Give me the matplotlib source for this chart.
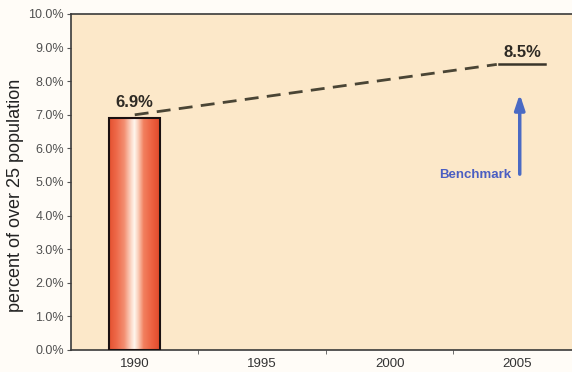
import numpy as np
import matplotlib
matplotlib.use("Agg")
import matplotlib.pyplot as plt
from matplotlib.colors import LinearSegmentedColormap

plt.rcParams["font.family"] = ["Liberation Sans", "DejaVu Sans"]

# Data
years = ["1990", "1995", "2000", "2005"]
bar_years = ["1990"]
bar_values = [6.9]
benchmark_value = 8.5
trend_start = 7.0
y_ticks = [0.0, 1.0, 2.0, 3.0, 4.0, 5.0, 6.0, 7.0, 8.0, 9.0, 10.0]

fig = plt.figure(figsize=(5.72, 3.72), dpi=100)
fig.patch.set_facecolor("#fffcf7")
ax = fig.add_axes([71 / 572, 22 / 372, 1 - 71 / 572, 336 / 372])
ax.set_facecolor("#fce8c9")

x = np.arange(len(years))
ax.set_xlim(-0.5, 3.43)
ax.set_ylim(0, 10)

# Bar with a red-white-red gradient fill
bar_w = 0.4
cmap = LinearSegmentedColormap.from_list(
    "barfill",
    [(0.0, "#e4502f"), (0.15, "#ee6a4a"), (0.3, "#f38f72"), (0.44, "#fcdccc"),
     (0.5, "#fff6ee"), (0.57, "#fbd0bc"), (0.68, "#f2805f"), (0.85, "#ec6040"),
     (1.0, "#e04a2b")])
grad = np.linspace(0, 1, 256).reshape(1, -1)
for yr, val in zip(bar_years, bar_values):
    xi = years.index(yr)
    bars = ax.bar(xi, val, width=bar_w, color="none", edgecolor="#1a1010",
                  linewidth=1.5, zorder=3)
    rect = bars[0]
    im = ax.imshow(grad, cmap=cmap, aspect="auto",
                   extent=(xi - bar_w / 2, xi + bar_w / 2, 0, val), zorder=2)
    im.set_clip_path(rect)
    ax.text(xi, val + 0.25, f"{val}%", ha="center", va="bottom",
            fontsize=12, color="#2e2a24", fontweight="bold")

# Trend to the benchmark
ax.plot([0, 2.84], [trend_start, benchmark_value], color="#4a4535",
        linewidth=2, linestyle=(0, (5, 3)), zorder=4)
ax.plot([2.86, 3.22], [benchmark_value, benchmark_value], color="#3a352a",
        linewidth=1.8, zorder=4)
ax.text(3.04, benchmark_value + 0.12, f"{benchmark_value}%", ha="center",
        va="bottom", fontsize=12, color="#2e2a24", fontweight="bold")

# Benchmark arrow
ax.annotate("", xy=(3.02, 7.7), xytext=(3.02, 5.15),
            arrowprops=dict(arrowstyle="-|>,head_length=0.9,head_width=0.3",
                            color="#4a6ac4", linewidth=2.5), zorder=5)
ax.text(2.95, 5.2, "Benchmark", ha="right", va="center", fontsize=9.5,
        fontweight="bold", color="#4a5ec2")

# Axes styling
ax.set_yticks(y_ticks)
ax.set_yticklabels([f"{v:.1f}%" for v in y_ticks], fontsize=9, color="#505050")
ax.set_xticks(x)
ax.set_xticklabels(years, fontsize=9.5, color="#333333")
ax.tick_params(axis="x", which="major", length=0, pad=6)
ax.set_xticks(x[:-1] + 0.5, minor=True)
ax.tick_params(axis="x", which="minor", length=3, color="#555555")
ax.tick_params(axis="y", length=3, color="#555555", pad=2)
ax.set_ylabel("percent of over 25 population", fontsize=13, color="#222222")
ax.yaxis.set_label_coords(-0.093, 0.46)
for side in ["left", "top", "bottom"]:
    ax.spines[side].set_color("#3a3a3a")
    ax.spines[side].set_linewidth(1.2)
ax.spines["right"].set_visible(False)

fig.savefig("out.png", dpi=100, facecolor=fig.get_facecolor())
